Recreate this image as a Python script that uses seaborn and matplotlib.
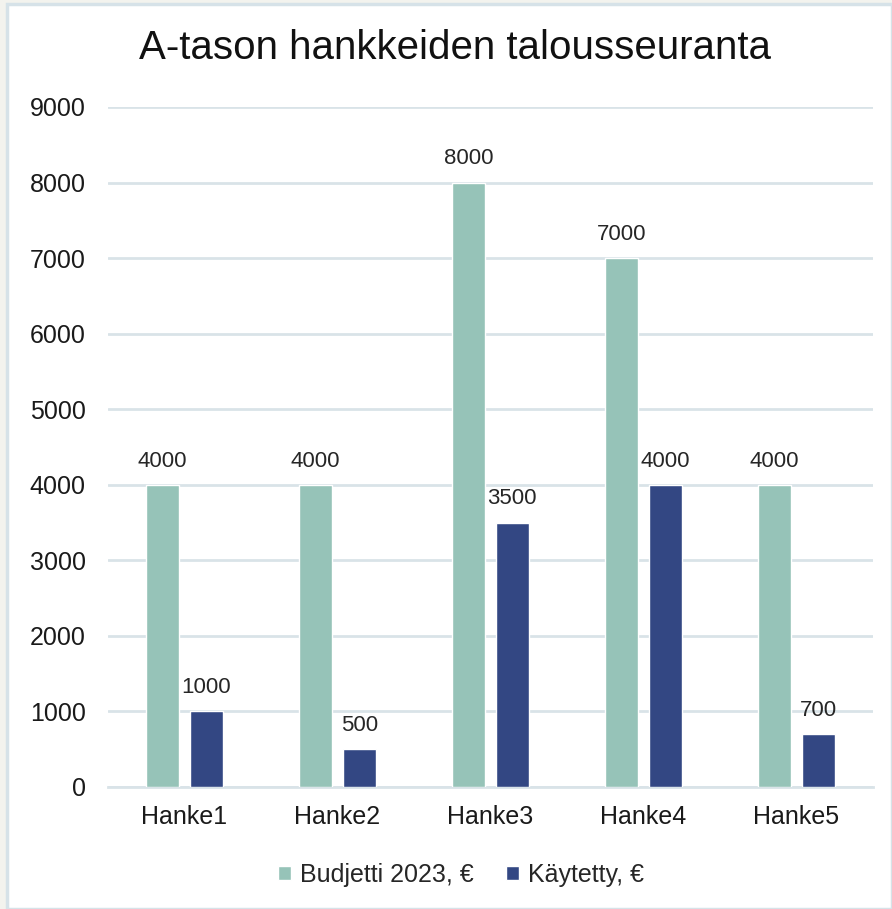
import pandas as pd
import matplotlib.pyplot as plt
import seaborn as sns
from matplotlib.patches import Rectangle

# chart data
hankkeet = ['Hanke1', 'Hanke2', 'Hanke3', 'Hanke4', 'Hanke5']
budjetti = [4000, 4000, 8000, 7000, 4000]
kaytetty = [1000, 500, 3500, 4000, 700]
sarjat = ['Budjetti 2023, €', 'Käytetty, €']
yticks = [0, 1000, 2000, 3000, 4000, 5000, 6000, 7000, 8000, 9000]

df = pd.DataFrame({
    'hanke': hankkeet * 2,
    'sarja': [sarjat[0]] * len(hankkeet) + [sarjat[1]] * len(hankkeet),
    'arvo': budjetti + kaytetty,
})

sns.set_style("white")
plt.rcParams['font.family'] = ['Liberation Sans', 'DejaVu Sans']

fig = plt.figure(figsize=(8.92, 9.09), dpi=100, facecolor='#F3F3EE')
# white chart area with thin border (as in the spreadsheet export)
fig.patches.append(Rectangle((7 / 892, 0), 1 - 7 / 892, 1 - 4 / 909,
                             transform=fig.transFigure, facecolor='white',
                             edgecolor='#D6E2E8', linewidth=2.5, zorder=-5))

ax = fig.add_axes([108 / 892, 1 - 787 / 909, 765 / 892, 680 / 909])
ax.set_facecolor('none')

colors = ['#96C3B8', '#334783']
sns.barplot(data=df, x='hanke', y='arvo', hue='sarja', palette=colors,
            width=0.57, gap=0.23, ax=ax, saturation=1, zorder=3)

for cont in ax.containers:
    ax.bar_label(cont, fmt='%d', padding=9.5, fontsize=16, color='#262626')

ax.set_ylim(0, 9000)
ax.set_yticks(yticks)
ax.set_xlim(-0.5, len(hankkeet) - 0.5)
ax.yaxis.grid(True, color='#D9E3E8', linewidth=2, zorder=0)
ax.set_axisbelow(True)
for s in ['top', 'right', 'left']:
    ax.spines[s].set_visible(False)
ax.spines['bottom'].set_color('#D9E3E8')
ax.spines['bottom'].set_linewidth(2)
ax.tick_params(axis='both', length=0, labelsize=18, labelcolor='#1a1a1a')
ax.tick_params(axis='y', pad=16)
ax.tick_params(axis='x', pad=13)
ax.set_xlabel('')
ax.set_ylabel('')

fig.suptitle('A-tason hankkeiden talousseuranta', x=0.51, y=0.968,
             fontsize=29, color='#111111')

ax.legend(loc='center', bbox_to_anchor=(0.461, -0.129), ncol=2,
          frameon=False, fontsize=18, handlelength=0.52, handleheight=0.52,
          handletextpad=0.36, columnspacing=1.28)

fig.savefig('out.png', dpi=100, facecolor=fig.get_facecolor())
